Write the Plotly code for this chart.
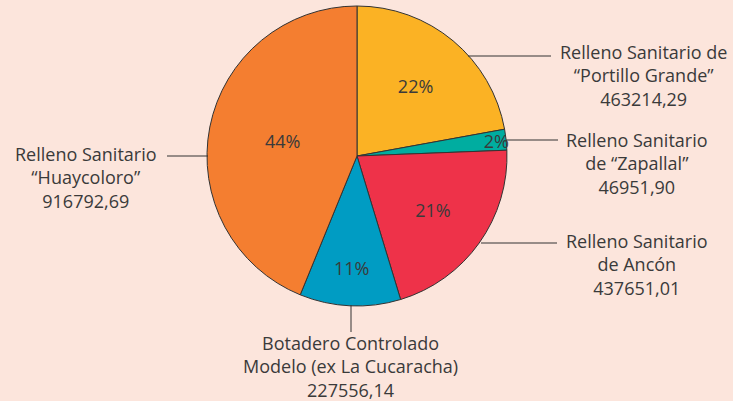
import plotly.graph_objects as go

# ---- data ----
labels = [
    'Relleno Sanitario de<br>“Portillo Grande”',
    'Relleno Sanitario<br>de “Zapallal”',
    'Relleno Sanitario<br>de Ancón',
    'Botadero Controlado<br>Modelo (ex La Cucaracha)',
    'Relleno Sanitario<br>“Huaycoloro”',
]
value_text = ['463214,29', '46951,90', '437651,01', '227556,14', '916792,69']
values = [463214.29, 46951.90, 437651.01, 227556.14, 916792.69]
colors = ['#FBB224', '#00ADA0', '#EE3249', '#009CC3', '#F47E30']

# ---- style / layout (pixel coordinates) ----
W, H = 733, 401
BG = '#FCE5DC'
TXT = '#3A3A3A'
FONT = 'Open Sans'
cx, cy, R = 357, 156, 150

# label centre positions and leader lines (pixel space)
label_pos = [(643, 75), (637, 163), (637, 264), (350, 366), (86, 177)]
leaders = [
    ((468, 56), (551, 56)),
    ((506, 140), (558, 140)),
    ((481, 243), (557, 243)),
    ((351, 305), (351, 332)),
    ((167, 156), (208, 156)),
]

fig = go.Figure()
fig.add_trace(go.Pie(
    labels=[l.replace('<br>', ' ') for l in labels],
    values=values,
    sort=False,
    direction='clockwise',
    rotation=0,
    marker=dict(colors=colors, line=dict(color='#333333', width=1)),
    texttemplate='%{percent:.0%}',
    textposition='inside',
    insidetextorientation='horizontal',
    textfont=dict(family=FONT, size=18, color=TXT),
    hoverinfo='label+value+percent',
    showlegend=False,
    domain=dict(x=[(cx - R) / W, (cx + R) / W],
                y=[1 - (cy + R) / H, 1 - (cy - R) / H]),
))

shapes = []
for (x0, y0), (x1, y1) in leaders:
    shapes.append(dict(type='line', xref='x', yref='y', x0=x0, y0=y0, x1=x1, y1=y1,
                       line=dict(color='#333333', width=1)))

annotations = []
for lab, vt, (x, y) in zip(labels, value_text, label_pos):
    annotations.append(dict(
        xref='x', yref='y', x=x, y=y, text=lab + '<br>' + vt, showarrow=False,
        xanchor='center', yanchor='middle', align='center',
        font=dict(family=FONT, size=18, color=TXT),
    ))

fig.update_layout(
    width=W, height=H,
    margin=dict(l=0, r=0, t=0, b=0),
    paper_bgcolor=BG, plot_bgcolor=BG,
    xaxis=dict(range=[0, W], visible=False, fixedrange=True),
    yaxis=dict(range=[H, 0], visible=False, fixedrange=True),
    uniformtext=dict(minsize=18, mode='show'),
    shapes=shapes,
    annotations=annotations,
)

fig.write_html('out.html',
               config={'displayModeBar': False},
               post_script="document.body.style.margin='0';document.body.style.background='%s';" % BG)
